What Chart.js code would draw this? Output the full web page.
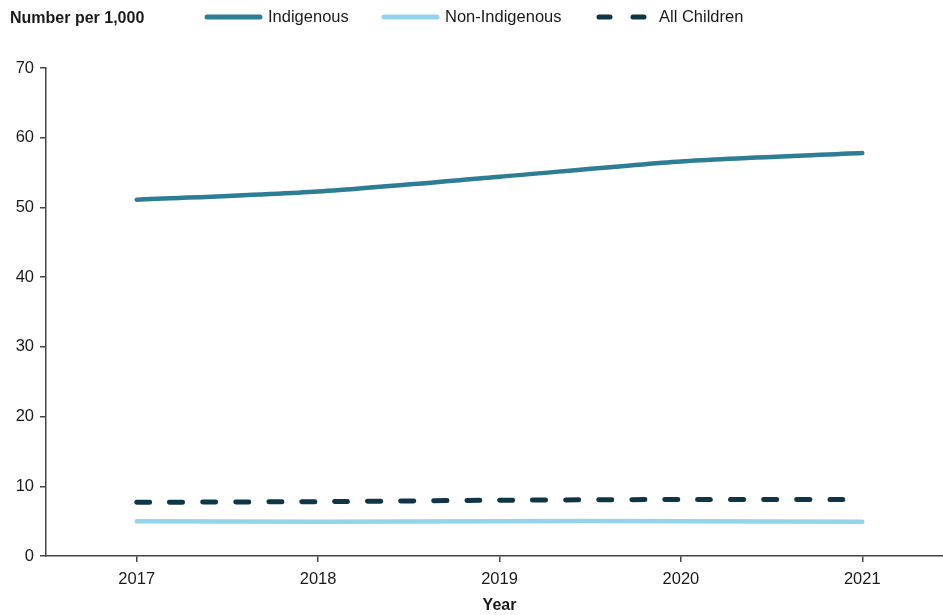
<!DOCTYPE html>
<html>
<head>
<meta charset="utf-8">
<script src="https://cdn.jsdelivr.net/npm/chart.js@4.4.1/dist/chart.umd.min.js"></script>
<style>
html,body{margin:0;padding:0;background:#fff;overflow:hidden;}
#wrap{position:relative;width:960px;height:615px;}
</style>
</head>
<body>
<div id="wrap"><canvas id="c"></canvas></div>
<script>
const years = ['2017', '2018', '2019', '2020', '2021'];
const indigenous = [51.1, 52.3, 54.4, 56.6, 57.8];
const nonIndigenous = [5.0, 4.9, 5.0, 5.0, 4.9];
const allChildren = [7.7, 7.8, 8.0, 8.1, 8.1];
const yTicks = [0, 10, 20, 30, 40, 50, 60, 70];

const FONT = '"Liberation Sans", Arial, sans-serif';
const axisColor = '#454545';

const headerPlugin = {
  id: 'header',
  afterDraw(chart) {
    const ctx = chart.ctx;
    ctx.save();
    ctx.font = 'bold 16px ' + FONT;
    ctx.fillStyle = '#1a1a1a';
    ctx.textAlign = 'left';
    ctx.textBaseline = 'middle';
    ctx.fillText('Number per 1,000', 10, 19);
    const starts = [205, 382, 597];
    const lineW = 57;
    const y = 17;
    ctx.font = '16.5px ' + FONT;
    chart.data.datasets.forEach((ds, i) => {
      const x0 = starts[i];
      ctx.save();
      ctx.strokeStyle = ds.borderColor;
      ctx.lineWidth = 5;
      ctx.lineCap = 'round';
      ctx.beginPath();
      if (ds.borderDash) {
        ctx.setLineDash([11, 23]);
        ctx.moveTo(x0 + 2, y);
        ctx.lineTo(x0 + 50, y);
      } else {
        ctx.moveTo(x0 + 2, y);
        ctx.lineTo(x0 + lineW - 2, y);
      }
      ctx.stroke();
      ctx.restore();
      ctx.fillStyle = '#1a1a1a';
      ctx.textBaseline = 'middle';
      ctx.fillText(ds.label, ds.borderDash ? x0 + 62 : x0 + lineW + 6, y);
    });
    ctx.restore();
  }
};

new Chart(document.getElementById('c'), {
  type: 'line',
  data: {
    labels: years,
    datasets: [
      { label: 'Indigenous', data: indigenous, borderColor: '#2d7d94', backgroundColor: '#2d7d94',
        borderWidth: 4.5, borderCapStyle: 'round', pointRadius: 0, tension: 0.25 },
      { label: 'Non-Indigenous', data: nonIndigenous, borderColor: '#93d4ea', backgroundColor: '#93d4ea',
        borderWidth: 4.5, borderCapStyle: 'round', pointRadius: 0, tension: 0.25 },
      { label: 'All Children', data: allChildren, borderColor: '#0f3646', backgroundColor: '#0f3646',
        borderWidth: 5, borderCapStyle: 'round', borderDash: [13, 20], pointRadius: 0, tension: 0.25 }
    ]
  },
  options: {
    responsive: true,
    maintainAspectRatio: false,
    animation: false,
    layout: { padding: { left: 0, right: 7, top: 68, bottom: 0 } },
    plugins: {
      legend: { display: false },
      tooltip: { enabled: false }
    },
    scales: {
      x: {
        offset: true,
        grid: { display: true, drawOnChartArea: false, drawTicks: true, tickLength: 6, color: axisColor, lineWidth: 1.5 },
        border: { display: true, color: axisColor, width: 1.5 },
        ticks: { color: '#1a1a1a', font: { family: FONT, size: 16.5 }, padding: 8 },
        title: { display: true, text: 'Year', color: '#1a1a1a', font: { family: FONT, size: 16, weight: 'bold' }, padding: { top: 6, bottom: 0 } },
        afterFit(scale) { scale.height = 59; }
      },
      y: {
        min: 0, max: 70,
        afterBuildTicks(scale) { scale.ticks = yTicks.map(v => ({ value: v })); },
        grid: { display: true, drawOnChartArea: false, drawTicks: true, tickLength: 6, color: axisColor, lineWidth: 1.5 },
        border: { display: true, color: axisColor, width: 1.5 },
        ticks: { color: '#1a1a1a', font: { family: FONT, size: 16.5 }, padding: 6 },
        afterFit(scale) { scale.width = 46; }
      }
    }
  },
  plugins: [headerPlugin]
});
</script>
</body>
</html>
